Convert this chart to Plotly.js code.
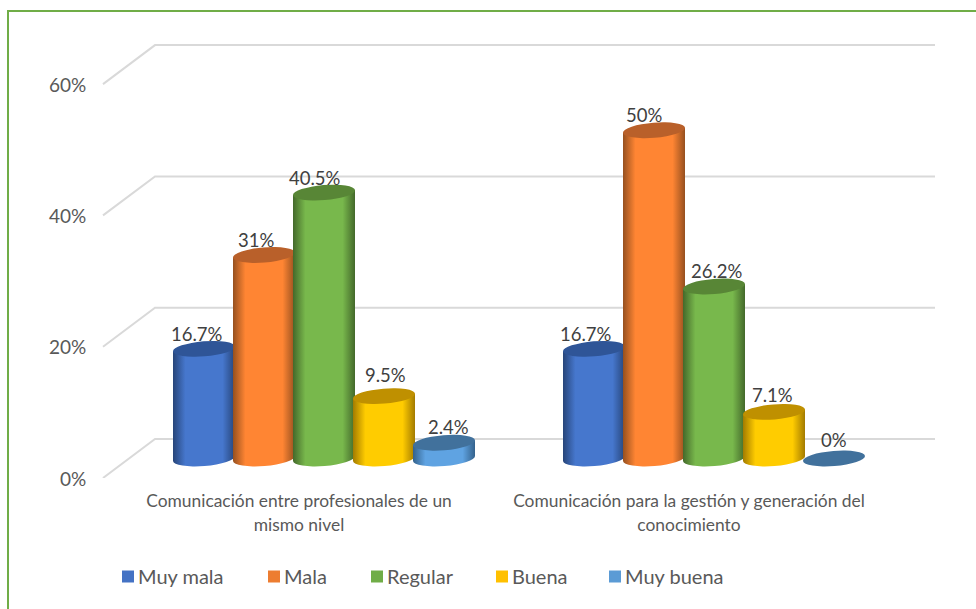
<!DOCTYPE html>
<html>
<head>
<meta charset="utf-8">
<script src="https://cdn.plot.ly/plotly-3.0.1.min.js"></script>
<style>
    html, body { margin: 0; padding: 0; background: #fff; }
    #plot { width: 976px; height: 609px; }
</style>
</head>
<body>
<div id="plot"></div>
<script>
var categories = ['Comunicación entre profesionales de un<br>mismo nivel', 'Comunicación para la gestión y generación del<br>conocimiento'];
var seriesNames = ['Muy mala', 'Mala', 'Regular', 'Buena', 'Muy buena'];
var muyMala = [16.7, 16.7];
var mala = [31, 50];
var regular = [40.5, 26.2];
var buena = [9.5, 7.1];
var muyBuena = [2.4, 0];
var gridValues = [0, 20, 40, 60];

// Colours: flat (legend), edge and centre of the body, top cap
var flatColors = ['#4472C4', '#ED7D31', '#70AD47', '#FFC000', '#5B9BD5'];
var edgeColors = ['#274579', '#96501f', '#44692b', '#a37b00', '#34628c'];
var midColors = ['#4677cd', '#ff8533', '#78b84c', '#ffcc00', '#5fa3e2'];
var capColors = ['#2f5597', '#b9602a', '#588636', '#bf9000', '#41719c'];

// Small hand nudges of the value labels (pixels), one pair per series
var labelDx = [[-7, -8], [-8, -10], [-9, 3], [1, -2], [4, 0]];
var labelDy = [[15, 15], [15, 15], [15, 16], [21, 17], [16, 19]];

// Plot frame in pixels
var W = 976, H = 609;
var left = 129, right = 909, top_ = 40, bottom = 478;
var pxPerUnit = 6.565;
var depth = 2.97; // half of the floor depth, in axis units
var groupPx = (right - left) / categories.length;
var pitch = 60 / groupPx;
var barWidth = 62 / groupPx;
var labelShift = 25 / groupPx; // category labels sit under the front of the floor
var allValues = [muyMala, mala, regular, buena, muyBuena];

function paperX(px) { return (px - left) / (right - left); }
function paperY(px) { return (bottom - px) / (bottom - top_); }

var traces = [];
var annotations = [];
seriesNames.forEach(function(name, s) {
    traces.push({
        type: 'bar',
        name: name,
        x: categories.map(function(c, i) { return i; }),
        y: allValues[s],
        width: barWidth,
        marker: { color: flatColors[s] },
        hoverinfo: 'none'
    });
    allValues[s].forEach(function(v, i) {
        annotations.push({
            x: i + (s - 2) * pitch,
            y: v,
            xref: 'x',
            yref: 'y',
            text: v + '%',
            showarrow: false,
            xshift: labelDx[s][i],
            yshift: labelDy[s][i],
            font: { family: 'Lato', size: 18.5, color: '#404040' }
        });
    });
});

// Gridlines with the 3D wall: front end, back corner, then along the back wall
var shapes = gridValues.map(function(v) {
    return {
        type: 'path',
        xref: 'paper',
        yref: 'y',
        layer: 'below',
        path: 'M' + paperX(103) + ',' + (v - depth) + ' L' + paperX(155) + ',' + (v + depth) + ' L' + paperX(935) + ',' + (v + depth),
        line: { color: '#d9d9d9', width: 2 }
    };
});

// Green frame of the picture
shapes.push({
    type: 'path',
    xref: 'paper',
    yref: 'paper',
    path: 'M' + paperX(8) + ',' + paperY(609) + ' L' + paperX(8) + ',' + paperY(11) + ' L' + paperX(976) + ',' + paperY(11),
    line: { color: '#70AD47', width: 2 }
});

var layout = {
    width: W,
    height: H,
    margin: { l: left, r: W - right, t: top_, b: H - bottom, pad: 0 },
    paper_bgcolor: '#fff',
    plot_bgcolor: 'rgba(0,0,0,0)',
    barmode: 'group',
    bargap: 1 - seriesNames.length * pitch,
    xaxis: {
        range: [-0.5, 1.5],
        tickvals: categories.map(function(c, i) { return i - labelShift; }),
        ticktext: categories,
        ticks: 'outside',
        ticklen: 7,
        tickcolor: 'rgba(0,0,0,0)',
        tickangle: 0,
        showgrid: false,
        zeroline: false,
        showline: false,
        tickfont: { family: 'Lato', size: 17.4, color: '#595959' }
    },
    yaxis: {
        range: [-depth, (458.5 - top_) / pxPerUnit],
        tickvals: gridValues.map(function(v) { return v - depth; }),
        ticktext: gridValues.map(function(v) { return v + '%'; }),
        ticks: 'outside',
        ticklen: 38,
        ticklabelshift: 1,
        tickcolor: 'rgba(0,0,0,0)',
        showgrid: false,
        zeroline: false,
        showline: false,
        tickfont: { family: 'Lato', size: 19, color: '#595959' }
    },
    showlegend: true,
    // Kept inside the plot so it does not push the margins, moved down after drawing
    legend: {
        orientation: 'h',
        x: 0,
        xanchor: 'left',
        y: 0,
        yanchor: 'bottom',
        entrywidth: 110,
        entrywidthmode: 'pixels',
        traceorder: 'normal',
        font: { family: 'Lato', size: 20, color: '#595959' },
        bgcolor: 'rgba(0,0,0,0)'
    },
    shapes: shapes,
    annotations: annotations
};

var svgNS = 'http://www.w3.org/2000/svg';

function addGradient(defs, id, edge, mid) {
    var grad = document.createElementNS(svgNS, 'linearGradient');
    grad.setAttribute('id', id);
    [[0, edge], [0.2, mid], [0.5, mid], [0.8, mid], [1, edge]].forEach(function(st) {
        var stop = document.createElementNS(svgNS, 'stop');
        stop.setAttribute('offset', st[0]);
        stop.setAttribute('stop-color', st[1]);
        grad.appendChild(stop);
    });
    defs.appendChild(grad);
}

// Turn the flat bars into cylinders, using the axes of the drawn plot
function makeCylinders(gd) {
    var xa = gd._fullLayout.xaxis, ya = gd._fullLayout.yaxis;
    var defs = gd.querySelector('.main-svg defs');
    var rx = 31, ry = 7.5, tilt = 2.5;
    var rot = -Math.atan(tilt / rx) * 180 / Math.PI;
    var arc = 'A' + rx + ',' + ry + ' ' + rot + ' 0 1 ';
    gd.querySelectorAll('.barlayer .trace.bars').forEach(function(group, s) {
        addGradient(defs, 'cyl' + s, edgeColors[s], midColors[s]);
        group.querySelectorAll('.point').forEach(function(pt, i) {
            var body = pt.querySelector('path');
            var cx = xa.d2p(i + (s - 2) * pitch);
            var yTop = ya.d2p(allValues[s][i]);
            var yBase = ya.d2p(0);
            var x0 = cx - rx, x1 = cx + rx;
            if (allValues[s][i] > 0) {
                body.setAttribute('d',
                    'M' + x0 + ',' + (yBase + tilt) + ' L' + x0 + ',' + (yTop + tilt) +
                    ' L' + x1 + ',' + (yTop - tilt) + ' L' + x1 + ',' + (yBase - tilt) +
                    ' ' + arc + x0 + ',' + (yBase + tilt) + 'Z');
                body.style.fill = 'url(#cyl' + s + ')';
                body.style.opacity = 1;
            }
            var cap = document.createElementNS(svgNS, 'path');
            cap.setAttribute('d',
                'M' + x0 + ',' + (yTop + tilt) + ' ' + arc + x1 + ',' + (yTop - tilt) +
                ' ' + arc + x0 + ',' + (yTop + tilt) + 'Z');
            cap.style.fill = capColors[s];
            pt.appendChild(cap);
        });
    });

    // Second line of the category labels sits a bit lower than Plotly's line height
    gd.querySelectorAll('.xtick text').forEach(function(t) {
        var lines = t.querySelectorAll('tspan.line');
        if (lines.length > 1) {
            lines[1].setAttribute('y', parseFloat(lines[1].getAttribute('y')) + 1);
        }
    });

    // Legend: place it under the chart, tight icon and text, positions as in the picture
    var legendLeft = 80, legendTop = 557;
    var legendX = [122, 268, 371, 496, 609];
    gd.querySelector('.legend').setAttribute('transform', 'translate(' + legendLeft + ',' + legendTop + ')');
    gd.querySelectorAll('.legend .traces').forEach(function(item, s) {
        var m = /translate\(([^,]+),\s*([^)]+)\)/.exec(item.getAttribute('transform'));
        item.setAttribute('transform', 'translate(' + (legendX[s] - legendLeft - 9) + ',' + m[2] + ')');
        item.querySelector('.legendpoints').setAttribute('transform', 'translate(-5,0)');
        var text = item.querySelector('text');
        text.setAttribute('x', 25);
        text.querySelectorAll('tspan').forEach(function(sp) { sp.setAttribute('x', 25); });
    });
}

Plotly.newPlot('plot', traces, layout, { displayModeBar: false, staticPlot: true }).then(makeCylinders);
</script>
</body>
</html>
